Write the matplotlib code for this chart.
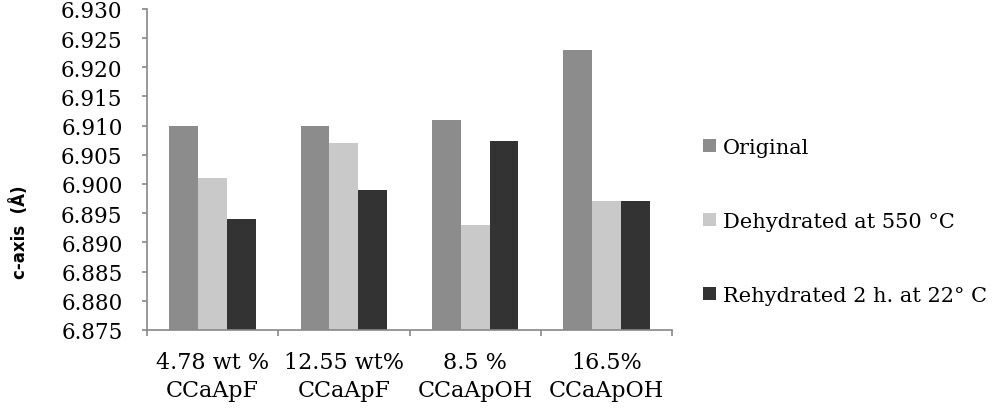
import numpy as np
import matplotlib
matplotlib.use('Agg')
import matplotlib.pyplot as plt

# Data
categories = ['4.78 wt %\nCCaApF', '12.55 wt%\nCCaApF', '8.5 %\nCCaApOH', '16.5%\nCCaApOH']
series_names = ['Original', 'Dehydrated at 550 °C', 'Rehydrated 2 h. at 22° C']
original = [6.910, 6.910, 6.911, 6.923]
dehydrated = [6.901, 6.907, 6.893, 6.897]
rehydrated = [6.894, 6.899, 6.9073, 6.897]
y_ticks = [6.875, 6.880, 6.885, 6.890, 6.895, 6.900, 6.905, 6.910, 6.915, 6.920, 6.925, 6.930]

colors = ['#8c8c8c', '#c9c9c9', '#333333']
serif = 'DejaVu Serif'

fig = plt.figure(figsize=(10, 4.1), dpi=100)
ax = fig.add_axes([0.147, 0.193, 0.525, 0.783])

x = np.arange(len(categories))
w = 0.22
for i, (vals, name) in enumerate(zip([original, dehydrated, rehydrated], series_names)):
    ax.bar(x + (i - 1) * w, np.array(vals) - 6.875, width=w, bottom=6.875,
           color=colors[i], label=name)

ax.set_xlim(-0.5, len(categories) - 0.5)
ax.set_ylim(6.875, 6.930)
ax.set_yticks(y_ticks)
ax.set_yticklabels(['%.3f' % t for t in y_ticks], fontfamily=serif, fontsize=15.5)

ax.set_xticks(x)
ax.set_xticklabels(categories, fontfamily=serif, fontsize=16, linespacing=1.35)
ax.set_xticks(np.arange(-0.5, len(categories)), minor=True)
ax.tick_params(axis='x', which='major', length=0, pad=15)
ax.tick_params(axis='x', which='minor', length=4.5, color='#888888', width=1.2)
ax.tick_params(axis='y', length=3.6, color='#888888', width=1.2, pad=14)

for s in ['top', 'right']:
    ax.spines[s].set_visible(False)
for s in ['left', 'bottom']:
    ax.spines[s].set_color('#888888')
    ax.spines[s].set_linewidth(1.2)

fig.text(0.02, 1 - 232 / 410, 'c-axis  (Å)', rotation=90, ha='center', va='center',
         fontsize=12, fontweight='bold', fontfamily='DejaVu Sans')

fig.legend(loc='upper left', bbox_to_anchor=(0.703, 0.662), frameon=False,
           prop={'family': serif, 'size': 15}, handlelength=0.6, handleheight=0.6,
           handletextpad=0.35, labelspacing=2.65, borderaxespad=0, borderpad=0)

fig.savefig('out.png', dpi=100)
